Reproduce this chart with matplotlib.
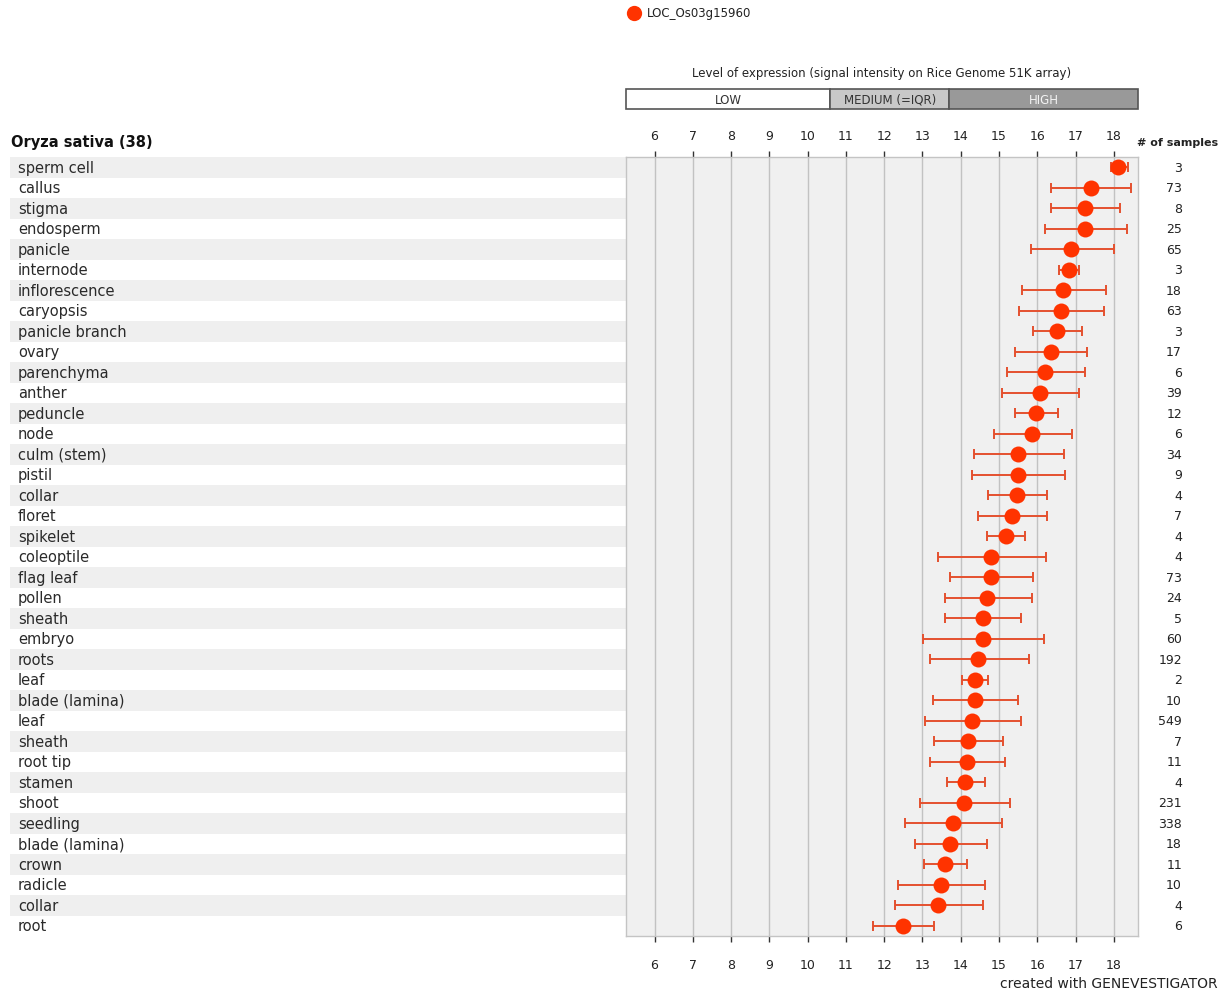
import matplotlib
matplotlib.use("Agg")
import matplotlib.pyplot as plt
from matplotlib.patches import Rectangle

# Anatomy categories (top to bottom) with mean expression, error-bar bounds and sample counts
tissues = [
    "sperm cell", "callus", "stigma", "endosperm", "panicle", "internode",
    "inflorescence", "caryopsis", "panicle branch", "ovary", "parenchyma",
    "anther", "peduncle", "node", "culm (stem)", "pistil", "collar", "floret",
    "spikelet", "coleoptile", "flag leaf", "pollen", "sheath", "embryo",
    "roots", "leaf", "blade (lamina)", "leaf", "sheath", "root tip", "stamen",
    "shoot", "seedling", "blade (lamina)", "crown", "radicle", "collar", "root",
]
means = [
    18.12, 17.40, 17.25, 17.25, 16.89, 16.82, 16.68, 16.62, 16.52, 16.35,
    16.20, 16.07, 15.97, 15.87, 15.50, 15.50, 15.47, 15.33, 15.17, 14.80,
    14.80, 14.69, 14.57, 14.57, 14.46, 14.36, 14.36, 14.29, 14.18, 14.16,
    14.11, 14.08, 13.79, 13.71, 13.58, 13.49, 13.41, 12.48,
]
lower = [
    17.92, 16.37, 16.37, 16.19, 15.83, 16.57, 15.59, 15.53, 15.89, 15.42,
    15.22, 15.09, 15.42, 14.88, 14.34, 14.30, 14.72, 14.44, 14.69, 13.41,
    13.73, 13.58, 13.60, 13.01, 13.19, 14.03, 13.28, 13.06, 13.30, 13.20,
    13.64, 12.93, 12.54, 12.81, 13.04, 12.36, 12.29, 11.71,
]
upper = [
    18.37, 18.44, 18.17, 18.34, 17.99, 17.09, 17.80, 17.74, 17.17, 17.29,
    17.24, 17.10, 16.55, 16.90, 16.70, 16.73, 16.25, 16.25, 15.67, 16.22,
    15.89, 15.87, 15.57, 16.17, 15.77, 14.71, 15.50, 15.57, 15.11, 15.15,
    14.64, 15.29, 15.09, 14.69, 14.16, 14.64, 14.57, 13.31,
]
n_samples = [
    3, 73, 8, 25, 65, 3, 18, 63, 3, 17, 6, 39, 12, 6, 34, 9, 4, 7, 4, 4,
    73, 24, 5, 60, 192, 2, 10, 549, 7, 11, 4, 231, 338, 18, 11, 10, 4, 6,
]
x_ticks = list(range(6, 19))
# expression level bands: (label, start, end)
bands = [("LOW", 5.255, 10.59), ("MEDIUM (=IQR)", 10.59, 13.70), ("HIGH", 13.70, 18.63)]
gene = "LOC_Os03g15960"
organism = "Oryza sativa (38)"

W, H = 1222, 995
fig = plt.figure(figsize=(W / 100, H / 100), dpi=100)
plt.rcParams["font.family"] = "DejaVu Sans"

def fx(px):
    return px / W

def fy(py):
    return 1 - py / H

XMIN, XMAX = 5.255, 18.63
n = len(tissues)
rows = list(range(n))

PLOT_L, PLOT_R, PLOT_T, PLOT_B = 626, 1138, 158, 937

# striped label panel
lab = fig.add_axes([fx(10), fy(PLOT_B), fx(PLOT_L - 10), (PLOT_B - PLOT_T) / H])
lab.set_xlim(0, 1)
lab.set_ylim(n - 0.5, -0.5)
lab.axis("off")
for i, name in enumerate(tissues):
    if i % 2 == 0:
        lab.add_patch(Rectangle((0, i - 0.5), 1, 1, facecolor="#efefef",
                                edgecolor="none", transform=lab.transData))
    lab.text(8 / (PLOT_L - 10), i, name, ha="left", va="center",
             fontsize=10.5, color="#2a2a2a")

# main expression panel
ax = fig.add_axes([fx(PLOT_L), fy(PLOT_B), fx(PLOT_R - PLOT_L), (PLOT_B - PLOT_T) / H])
ax.set_facecolor("#f0f0f0")
ax.set_xlim(XMIN, XMAX)
ax.set_ylim(n - 0.5, -0.5)
for xv in x_ticks:
    ax.axvline(xv, color="#c2c2c2", lw=1.0, zorder=1)
for s in ax.spines.values():
    s.set_color("#c4c4c4")
    s.set_linewidth(1.0)

err_lo = [m - lo for m, lo in zip(means, lower)]
err_hi = [hi - m for m, hi in zip(means, upper)]
ax.errorbar(means, rows, xerr=[err_lo, err_hi], fmt="none", ecolor="#e4502e",
            elinewidth=1.4, capsize=3.5, capthick=1.4, zorder=3)
ax.plot(means, rows, "o", color="#ff3300", markersize=11.5, markeredgewidth=0, zorder=4)

ax.set_xticks(x_ticks)
ax.set_xticklabels([str(v) for v in x_ticks])
ax.set_yticks([])
ax.tick_params(axis="x", which="both", top=True, bottom=True, labeltop=False,
               labelbottom=True, direction="out", length=4, width=1,
               color="#333333", labelsize=9, labelcolor="#222222", pad=12)

# scale labels above the panel
for xv in x_ticks:
    ax.annotate(str(xv), xy=(xv, 1), xycoords=("data", "axes fraction"),
                xytext=(0, 21 * 0.72), textcoords="offset points",
                ha="center", va="center", fontsize=9, color="#222222")

# sample counts column
for i, cnt in enumerate(n_samples):
    fig.text(fx(1182), fy(PLOT_T) - (i + 0.5) * (PLOT_B - PLOT_T) / H / n, str(cnt),
             ha="right", va="center", fontsize=9, color="#222222")
fig.text(fx(1137), fy(143), "# of samples", ha="left", va="center",
         fontsize=8, fontweight="bold", color="#222222")

# organism header
fig.text(fx(11), fy(142), organism, ha="left", va="center", fontsize=10.5,
         fontweight="bold", color="#111111")

# expression-level bar
bar = fig.add_axes([fx(PLOT_L), fy(110), fx(PLOT_R - PLOT_L), 20 / H])
bar.set_xlim(XMIN, XMAX)
bar.set_ylim(0, 1)
bar.axis("off")
band_fill = ["#ffffff", "#c8c8c8", "#999999"]
band_text = ["#333333", "#333333", "#f4f4f4"]
for (label, a, b), fc, tc in zip(bands, band_fill, band_text):
    bar.add_patch(Rectangle((a, 0), b - a, 1, facecolor=fc, edgecolor="#555555",
                            lw=1.2, clip_on=False))
    bar.text((a + b) / 2, 0.5, label, ha="center", va="center", fontsize=8.5, color=tc)
fig.text(fx(882), fy(74), "Level of expression (signal intensity on Rice Genome 51K array)",
         ha="center", va="center", fontsize=8.5, color="#222222")

# legend entry
leg = fig.add_axes([0, 0, 1, 1], facecolor="none")
leg.set_xlim(0, W)
leg.set_ylim(H, 0)
leg.axis("off")
leg.plot([634], [14], "o", color="#ff3300", markersize=11, markeredgewidth=0)
leg.text(647, 14, gene, ha="left", va="center", fontsize=8.5, color="#222222")

fig.text(fx(1218), fy(984), "created with GENEVESTIGATOR", ha="right", va="center",
         fontsize=10, color="#222222")

fig.savefig("out.png", dpi=100, facecolor="white")
